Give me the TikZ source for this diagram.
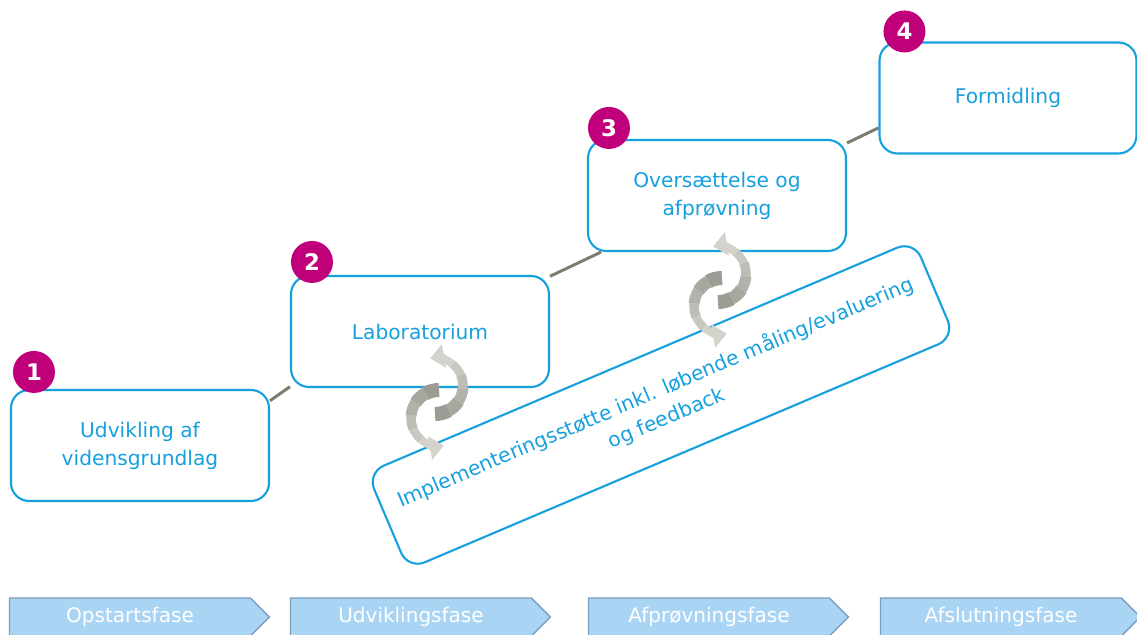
\documentclass[tikz,border=0pt]{standalone}
\usepackage{fontspec}
\setmainfont{DejaVu Sans}
\usetikzlibrary{shapes.symbols,arrows.meta,positioning,backgrounds}

\definecolor{boxblue}{HTML}{16A0DE}
\definecolor{badgered}{HTML}{C0007A}
\definecolor{spinegray}{HTML}{7D7D6E}
\definecolor{phasefill}{HTML}{A9D4F3}
\definecolor{phaseline}{HTML}{7F9EBF}
\definecolor{cycledark}{HTML}{9C9C94}
\definecolor{cyclelight}{HTML}{D3D3CB}

\tikzset{
  stagebox/.style={draw=boxblue,line width=1.2pt,fill=white,rounded corners=0.36cm,
    minimum width=5.16cm,minimum height=2.22cm,text=boxblue,align=center,
    font=\fontsize{11.5}{16}\selectfont},
  badge/.style={circle,fill=badgered,minimum size=0.84cm,inner sep=0pt,text=white,
    font=\bfseries\fontsize{13}{13}\selectfont},
  phase/.style={signal,signal to=east,draw=phaseline,line width=0.8pt,fill=phasefill,
    minimum width=5.2cm,minimum height=0.76cm,text=white,font=\fontsize{11.4}{13}\selectfont},
  spine/.style={draw=spinegray,line width=1.7pt},
  pics/cycle/.style={code={
    \foreach \turn in {0,180}{
      \begin{scope}[rotate=\turn]
        \foreach \a/\p/\w in {-90/0/0.28,-62/20/0.25,-34/40/0.22,-6/60/0.19,22/80/0.17}
          \draw[line width=\w cm,draw=cyclelight!\p!cycledark] (-2,16) ++(\a:28) arc[start angle=\a,delta angle=29,radius=28];
        \draw[line width=0.16cm,draw=cyclelight,-{Triangle[width=0.46cm,length=0.28cm]}] (-2,16) ++(50:28) arc[start angle=50,end angle=100,radius=28];
      \end{scope}}
  }}
}

\begin{document}
\begin{tikzpicture}[x={(0.02cm,0)},y={(0,0.02cm)}]
\useasboundingbox (0,0) rectangle (1137,635);

% the four stages
\node[stagebox] (b1) at (140,189.5) {Udvikling af\\vidensgrundlag};
\node[stagebox] (b2) at (420,303.5) {Laboratorium};
\node[stagebox] (b3) at (717,439.5) {Oversættelse og\\afprøvning};
\node[stagebox,minimum width=5.14cm] (b4) at (1008,537) {Formidling};

\begin{pgfonlayer}{background}
\draw[spine] (b1.19) -- (b2.203);
\draw[spine] (b2.23) -- (b3.206);
\draw[spine] (b3.22) -- (b4.193);
\end{pgfonlayer}

\node[badge] (n1) at ([xshift=0.48cm,yshift=0.34cm]b1.north west) {1};
\node[badge] (n2) at ([xshift=0.44cm,yshift=0.26cm]b2.north west) {2};
\node[badge] (n3) at ([xshift=0.44cm,yshift=0.22cm]b3.north west) {3};
\node[badge] (n4) at ([xshift=0.52cm,yshift=0.2cm]b4.north west) {4};

\node[stagebox,rotate=23,minimum width=11.88cm,minimum height=2.1cm] (impl) at (661,230)
  {Implementeringsstøtte inkl. løbende måling/evaluering\\og feedback};

\pic at (437,233) {cycle};
\pic at (720,345) {cycle};

% phases
\node[phase] (p1) at (130,18) {Opstartsfase};
\node[phase] (p2) at (411,18) {Udviklingsfase};
\node[phase] (p3) at (709,18) {Afprøvningsfase};
\node[phase] (p4) at (1001,18) {Afslutningsfase};
\end{tikzpicture}
\end{document}
